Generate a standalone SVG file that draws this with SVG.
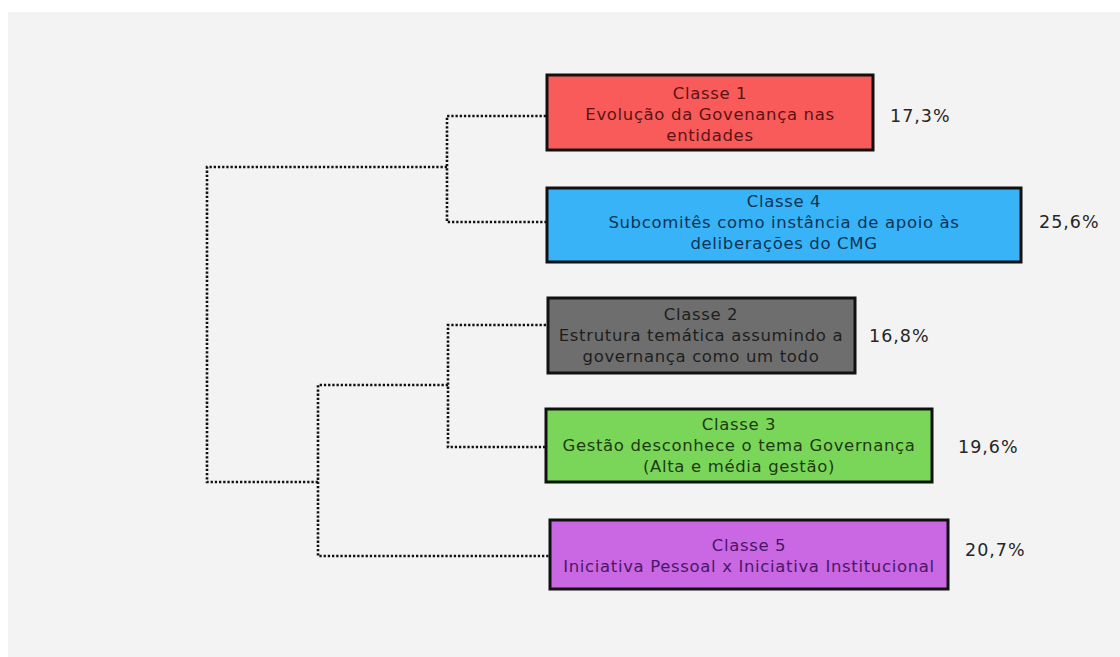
<svg xmlns="http://www.w3.org/2000/svg" width="1120" height="657" viewBox="0 0 1120 657">
<style>
.box{stroke:#111;stroke-width:3}
.t{font-family:"DejaVu Sans","Liberation Sans",sans-serif;font-size:16.5px;letter-spacing:0.65px;text-anchor:middle}
.p{font-family:"DejaVu Sans","Liberation Sans",sans-serif;font-size:17.5px;letter-spacing:1px;fill:#262626}
.c path{fill:none;stroke:#111;stroke-width:2.6;stroke-dasharray:2.3 1.9}
</style>
<rect width="1120" height="657" fill="#ffffff"/>
<rect x="8" y="12" width="1112" height="645" fill="#f3f3f3"/>
<g class="c" id="connectors">
<path d="M546 116 H447 V222 H546"/>
<path d="M447 167 H207 V482 H318"/>
<path d="M546 325 H448 V447 H545"/>
<path d="M448 385 H318 V556 H550"/>
</g>
<g id="classe1">
<rect class="box" x="547" y="75" width="326" height="75" fill="#f95a5a"/>
<text class="t" fill="#5c1414" x="710" y="99">Classe 1</text>
<text class="t" fill="#5c1414" x="710" y="120">Evolução da Govenança nas</text>
<text class="t" fill="#5c1414" x="710" y="141">entidades</text>
<text class="p" x="890" y="122">17,3%</text>
</g>
<g id="classe4">
<rect class="box" x="547" y="188" width="474" height="74" fill="#38b3f8"/>
<text class="t" fill="#0f3454" x="784" y="207">Classe 4</text>
<text class="t" fill="#0f3454" x="784" y="228">Subcomitês como instância de apoio às</text>
<text class="t" fill="#0f3454" x="784" y="249">deliberações do CMG</text>
<text class="p" x="1039" y="228">25,6%</text>
</g>
<g id="classe2">
<rect class="box" x="548" y="298" width="307" height="75" fill="#6e6e6e"/>
<text class="t" fill="#1e1e1e" x="701" y="320">Classe 2</text>
<text class="t" fill="#1e1e1e" x="701" y="341">Estrutura temática assumindo a</text>
<text class="t" fill="#1e1e1e" x="701" y="362">governança como um todo</text>
<text class="p" x="869" y="342">16,8%</text>
</g>
<g id="classe3">
<rect class="box" x="546" y="409" width="386" height="73" fill="#7ad659"/>
<text class="t" fill="#1e3a12" x="739" y="430">Classe 3</text>
<text class="t" fill="#1e3a12" x="739" y="451">Gestão desconhece o tema Governança</text>
<text class="t" fill="#1e3a12" x="739" y="472">(Alta e média gestão)</text>
<text class="p" x="958" y="453">19,6%</text>
</g>
<g id="classe5">
<rect class="box" x="550" y="520" width="398" height="69" fill="#c968e2"/>
<text class="t" fill="#4a1766" x="749" y="551">Classe 5</text>
<text class="t" fill="#4a1766" x="749" y="572">Iniciativa Pessoal x Iniciativa Institucional</text>
<text class="p" x="965" y="556">20,7%</text>
</g>
</svg>
